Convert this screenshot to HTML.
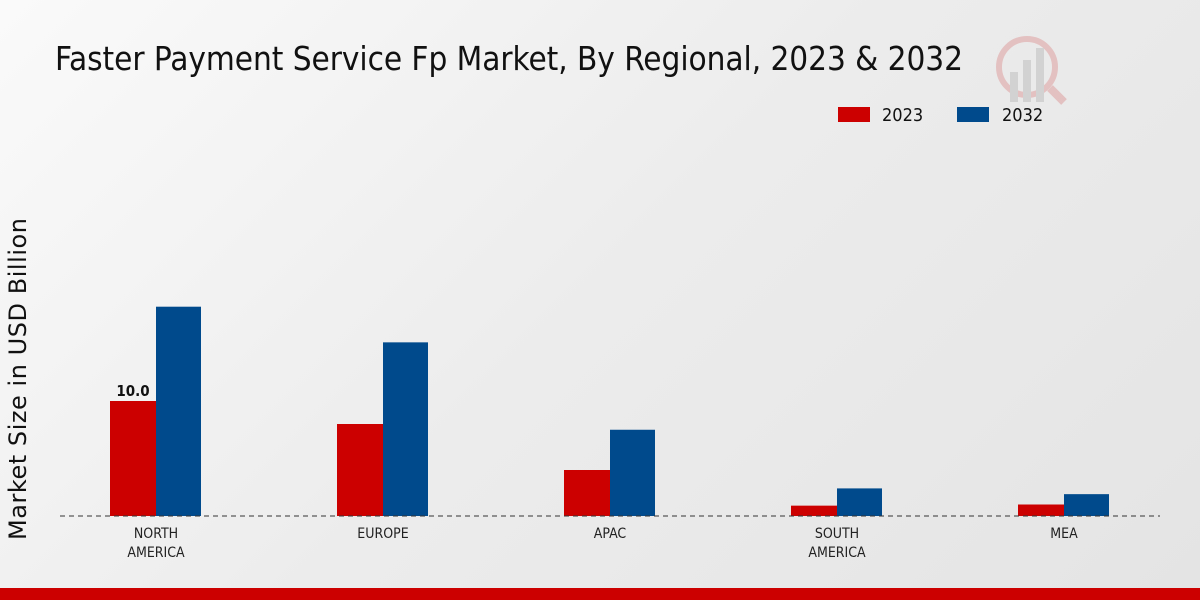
<!DOCTYPE html>
<html><head><meta charset="utf-8"><style>
body{margin:0;width:1200px;height:600px;overflow:hidden;background:linear-gradient(135deg,#fafafa 0%,#ececec 50%,#e4e4e4 100%);font-family:"DejaVu Sans Condensed","DejaVu Sans","Liberation Sans",sans-serif;}
svg{position:absolute;left:0;top:0}
</style></head><body>
<svg width="1200" height="600">
<text x="55" y="70" font-size="33" font-stretch="condensed" fill="#111" style="font-family:'DejaVu Sans Condensed','DejaVu Sans',sans-serif" textLength="908">Faster Payment Service Fp Market, By Regional, 2023 &amp; 2032</text>
<g opacity="0.5">
<circle cx="1027" cy="67" r="28" fill="none" stroke="#d99" stroke-width="6"/>
<rect x="1010" y="72" width="8" height="30" fill="#bbb"/><rect x="1023" y="60" width="8" height="42" fill="#bbb"/><rect x="1036" y="48" width="8" height="54" fill="#bbb"/>
<line x1="1050" y1="88" x2="1064" y2="102" stroke="#d99" stroke-width="8"/>
</g>
<g>
<rect x="838" y="107" width="32" height="15" fill="#cc0000"/>
<text x="882" y="121" font-size="18" fill="#111">2023</text>
<rect x="957" y="107" width="32" height="15" fill="#004a8c"/>
<text x="1002" y="121" font-size="18" fill="#111">2032</text>
</g>
<text transform="translate(26,379) rotate(-90)" text-anchor="middle" font-size="24" textLength="322" fill="#111" style="font-family:'DejaVu Sans',sans-serif">Market Size in USD Billion</text>
<g id="bars"></g>
<line x1="60" y1="516" x2="1160" y2="516" stroke="#333" stroke-width="1" stroke-dasharray="5,4"/>
<g id="labels"></g>
<rect x="0" y="588" width="1200" height="12" fill="#cc0000"/>
</svg>
<script>
const categories=[["NORTH","AMERICA"],["EUROPE"],["APAC"],["SOUTH","AMERICA"],["MEA"]];
const values2023=[10.0,8.0,4.0,0.9,1.0];
const values2032=[18.2,15.1,7.5,2.4,1.9];
const shownLabels=["10.0",null,null,null,null];
const NS="http://www.w3.org/2000/svg";
const y=v=>516-v*11.5;
const xc=i=>156+i*227;
const bars=document.getElementById('bars'),labels=document.getElementById('labels');
function mk(t,a){const e=document.createElementNS(NS,t);for(const k in a)e.setAttribute(k,a[k]);return e;}
categories.forEach((c,i)=>{
  const r=mk('rect',{x:xc(i)-46,y:y(values2023[i]),width:46,height:516-y(values2023[i]),fill:'#cc0000'});
  
  
  bars.appendChild(r);
  const b=mk('rect',{x:xc(i),y:y(values2032[i]),width:45,height:516-y(values2032[i]),fill:'#004a8c'});
  
  
  bars.appendChild(b);
  if(shownLabels[i]){const t=mk('text',{x:xc(i)-23,y:y(values2023[i])-5,'text-anchor':'middle','font-size':'15','font-weight':'bold',fill:'#111'});t.textContent=shownLabels[i];
  
  
  labels.appendChild(t);}
  c.forEach((line,j)=>{const t=mk('text',{x:xc(i),y:538+j*19,'text-anchor':'middle','font-size':'14',fill:'#222'});t.textContent=line;
  
  
  labels.appendChild(t);});
});
</script>
</body></html>
